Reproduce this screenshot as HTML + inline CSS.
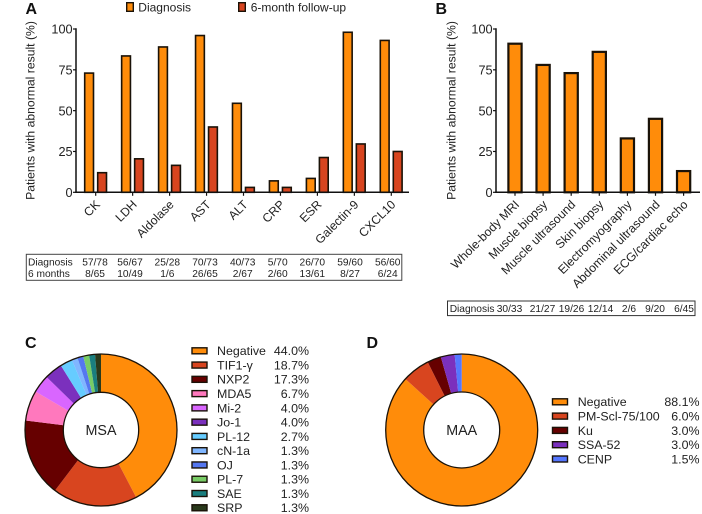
<!DOCTYPE html>
<html lang="en">
<head>
<meta charset="utf-8">
<title>Abnormal results and autoantibody distribution</title>
<style>
  html, body { margin: 0; padding: 0; background: #fff; }
  #figure { display: block; width: 702px; height: 514px; font-family: "Liberation Sans", Arial, sans-serif; fill: #222; filter: blur(0.3px); }
</style>
</head>
<body>
<svg id="figure" xmlns="http://www.w3.org/2000/svg" width="702" height="514" viewBox="0 0 702 514"></svg>
<script>
// Panel A data
const labelsA = ["CK", "LDH", "Aldolase", "AST", "ALT", "CRP", "ESR", "Galectin-9", "CXCL10"];
const diagnosisA = [73, 83.5, 89, 96, 54.5, 7, 8.5, 98, 93];
const followupA = [12, 20.5, 16.5, 40, 3, 3, 21.3, 29.6, 25];
const tableDiagnosisA = ["57/78", "56/67", "25/28", "70/73", "40/73", "5/70", "26/70", "59/60", "56/60"];
const tableFollowupA = ["8/65", "10/49", "1/6", "26/65", "2/67", "2/60", "13/61", "8/27", "6/24"];
// Panel B data
const labelsB = ["Whole-body MRI", "Muscle biopsy", "Muscle ultrasound", "Skin biopsy", "Electromyography", "Abdominal ultrasound", "ECG/cardiac echo"];
const diagnosisB = [91, 78, 73, 86, 33, 45, 13];
const tableDiagnosisB = ["30/33", "21/27", "19/26", "12/14", "2/6", "9/20", "6/45"];
// Shared axis ticks
const yTicks = [0, 25, 50, 75, 100];
// Panel C data
const namesC = ["Negative", "TIF1-γ", "NXP2", "MDA5", "Mi-2", "Jo-1", "PL-12", "cN-1a", "OJ", "PL-7", "SAE", "SRP"];
const valuesC = [44.0, 18.7, 17.3, 6.7, 4.0, 4.0, 2.7, 1.3, 1.3, 1.3, 1.3, 1.3];
const colorsC = ["#ff8c0a", "#d8451f", "#660000", "#ff78bd", "#d966ff", "#7b30bd", "#66ccff", "#80b6ff", "#5577f0", "#78cc66", "#1a7f7f", "#2a3a1c"];
// Panel D data
const namesD = ["Negative", "PM-Scl-75/100", "Ku", "SSA-52", "CENP"];
const valuesD = [88.1, 6.0, 3.0, 3.0, 1.5];
const colorsD = ["#ff8c0a", "#d8451f", "#660000", "#7b30bd", "#5577ff"];

const svg = document.getElementById('figure');
const NS = 'http://www.w3.org/2000/svg';
const INK = '#1a1208';

function make(tag, attrs, parent, text) {
  const el = document.createElementNS(NS, tag);
  for (const k in attrs) el.setAttribute(k, attrs[k]);
  if (text !== undefined) el.textContent = text;
  (parent || svg).appendChild(el);
  return el;
}

const yTop = 29, yBase = 192.3;
function yScale(v) { return yBase - (v / 100) * (yBase - yTop); }
function xScaleA(i) { return 95.7 + i * 36.95; }
function xScaleB(i) { return 515 + i * 28.1; }

function panelLetter(txt, x, y) {
  const el = make('text', { x: x, y: y, 'font-size': 16, 'font-weight': 'bold', fill: '#111' }, svg, txt);
  
  
}

function axes(prefix, xAxis, xEnd, titleX, xs, labels, labelDx, labelDy) {
  const g = make('g', {});
  
  
  const yLine = make('line', { x1: xAxis, x2: xAxis, y1: yTop - 0.7, y2: yBase + 0.7, stroke: '#111', 'stroke-width': 1.5 }, g);
  
  
  const xLine = make('line', { x1: xAxis - 0.7, x2: xEnd, y1: yBase, y2: yBase, stroke: '#111', 'stroke-width': 1.5 }, g);
  
  
  yTicks.forEach(function (t) {
    const mark = make('line', { x1: xAxis - 3, x2: xAxis, y1: yScale(t), y2: yScale(t), stroke: '#111', 'stroke-width': 1.2 }, g);
    
    
    const lab = make('text', { x: xAxis - 3.4, y: yScale(t) + 4.6, 'font-size': 12.7, 'text-anchor': 'end' }, g, t);
    
    
  });
  const title = make('text', { transform: 'translate(' + titleX + ',110.5) rotate(-90)', 'font-size': 12.2, 'text-anchor': 'middle' }, g, 'Patients with abnormal result (%)');
  
  
  labels.forEach(function (name, i) {
    const x = xs(i);
    const mark = make('line', { x1: x, x2: x, y1: yBase, y2: yBase + 3.5, stroke: '#111', 'stroke-width': 1.2 }, g);
    
    
    const lab = make('text', { transform: 'translate(' + (x + labelDx) + ',' + (yBase + labelDy) + ') rotate(-45)', 'font-size': 12.2, 'text-anchor': 'end' }, g, name);
    
    
  });
}

function bar(parent, cx, width, value, fill, strokeW, name) {
  const top = yScale(value);
  const r = make('rect', { x: cx - width / 2, y: top, width: width, height: yBase - top, fill: fill, stroke: INK, 'stroke-width': strokeW }, parent);
  
  
}

function donut(prefix, cx, cy, R, r, values, colors, label) {
  const g = make('g', {});
  
  
  const total = values.reduce(function (a, b) { return a + b; }, 0);
  let acc = 0;
  values.forEach(function (v, i) {
    const a0 = acc / total * 2 * Math.PI;
    acc += v;
    const a1 = acc / total * 2 * Math.PI;
    const large = a1 - a0 > Math.PI ? 1 : 0;
    const pt = function (rad, a) { return (cx + rad * Math.sin(a)).toFixed(2) + ' ' + (cy - rad * Math.cos(a)).toFixed(2); };
    const d = 'M' + pt(R, a0) + 'A' + R + ' ' + R + ' 0 ' + large + ' 1 ' + pt(R, a1) +
      'L' + pt(r, a1) + 'A' + r + ' ' + r + ' 0 ' + large + ' 0 ' + pt(r, a0) + 'Z';
    const slice = make('path', { d: d, fill: colors[i] }, g);
    
    
  });
  const outer = make('circle', { cx: cx, cy: cy, r: R, fill: 'none', stroke: INK, 'stroke-width': 1.3 }, g);
  
  
  const inner = make('circle', { cx: cx, cy: cy, r: r, fill: '#fff', stroke: INK, 'stroke-width': 1.3 }, g);
  
  
  const t = make('text', { x: cx, y: cy + 5.2, 'font-size': 14.3, 'text-anchor': 'middle' }, g, label);
  
  
}

function legend(prefix, names, values, colors, swatchX, textX, pctX, startY, step) {
  const g = make('g', {});
  
  
  names.forEach(function (n, i) {
    const y = startY + i * step;
    const sw = make('rect', { x: swatchX, y: y - 3, width: 15, height: 6, fill: colors[i], stroke: INK, 'stroke-width': 1.4 }, g);
    
    
    const t = make('text', { x: textX, y: y + 4.4, 'font-size': 12.4 }, g, n);
    
    
    const p = make('text', { x: pctX, y: y + 4.4, 'font-size': 12.4, 'text-anchor': 'end' }, g, values[i].toFixed(1) + '%');
    
    
  });
}

function cell(parent, x, y, text, anchor, name) {
  const t = make('text', { x: x, y: y, 'font-size': 10.2, 'text-anchor': anchor }, parent, text);
  
  
}

/* Panel A */
panelLetter('A', 25.5, 14);
const legendTop = make('g', {});


const swDiag = make('rect', { x: 126.7, y: 2.7, width: 6.6, height: 8.6, fill: colorsC[0], stroke: INK, 'stroke-width': 1.4 }, legendTop);


const txtDiag = make('text', { x: 138.3, y: 11.3, 'font-size': 12 }, legendTop, 'Diagnosis');


const swFollow = make('rect', { x: 238.7, y: 2.7, width: 6.6, height: 8.6, fill: colorsC[1], stroke: INK, 'stroke-width': 1.4 }, legendTop);


const txtFollow = make('text', { x: 250.7, y: 11.3, 'font-size': 12 }, legendTop, '6-month follow-up');



const barsA = make('g', {});


labelsA.forEach(function (name, i) {
  bar(barsA, xScaleA(i) - 6.6, 8.8, diagnosisA[i], colorsC[0], 1.6, 'bar-diagnosis-' + name.toLowerCase());
  bar(barsA, xScaleA(i) + 6.4, 8.8, followupA[i], colorsC[1], 1.6, 'bar-follow-up-' + name.toLowerCase());
});
axes('panel-a', 76, 409, 34.5, xScaleA, labelsA, 5, 13);

const tableA = make('g', {});


const frameA = make('rect', { x: 26.3, y: 254.3, width: 375.5, height: 26, fill: 'none', stroke: '#444', 'stroke-width': 1 }, tableA);


cell(tableA, 28, 265.5, 'Diagnosis', 'start', 'table-row-label-diagnosis');
cell(tableA, 28, 277, '6 months', 'start', 'table-row-label-6-months');
function tableColA(i) { return [95, 130, 167.3, 205, 242.7, 277.7, 312.3, 350, 387.7][i]; }
tableDiagnosisA.forEach(function (s, i) { cell(tableA, tableColA(i), 265.5, s, 'middle', 'table-diagnosis-count'); });
tableFollowupA.forEach(function (s, i) { cell(tableA, tableColA(i), 277, s, 'middle', 'table-follow-up-count'); });

/* Panel B */
panelLetter('B', 435.5, 14);
const barsB = make('g', {});


labelsB.forEach(function (name, i) {
  bar(barsB, xScaleB(i), 13.2, diagnosisB[i], colorsC[0], 2.2, 'bar-' + name.toLowerCase().replace(/[^a-z]+/g, '-'));
});
axes('panel-b', 496, 700, 455.7, xScaleB, labelsB, 5, 13);

const tableB = make('g', {});


const frameB = make('rect', { x: 447.5, y: 301, width: 247.5, height: 14.6, fill: 'none', stroke: '#333', 'stroke-width': 1 }, tableB);


cell(tableB, 449.7, 311.8, 'Diagnosis', 'start', 'table-b-row-label');
function tableColB(i) { return [509.5, 542.5, 571.5, 600.5, 629, 655, 684][i]; }
tableDiagnosisB.forEach(function (s, i) { cell(tableB, tableColB(i), 311.8, s, 'middle', 'table-b-count'); });

/* Panel C */
panelLetter('C', 25, 348);
donut('panel-c', 101, 430, 76, 37.7, valuesC, colorsC, 'MSA');
legend('panel-c', namesC, valuesC, colorsC, 192, 217, 309, 350.8, 14.27);

/* Panel D */
panelLetter('D', 366.5, 348);
donut('panel-d', 461.7, 430, 76, 38, valuesD, colorsD, 'MAA');
legend('panel-d', namesD, valuesD, colorsD, 552.5, 577.7, 699.5, 401.8, 14.3);
</script>
</body>
</html>
